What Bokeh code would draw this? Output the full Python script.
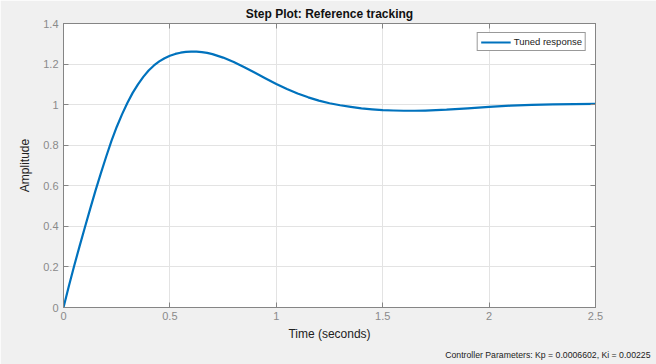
from bokeh.plotting import figure
from bokeh.models import LinearAxis, Range1d, FixedTicker, Legend, LegendItem, Title
from bokeh.embed import file_html
from bokeh.resources import INLINE

# step response
time_s = [0, 0.025, 0.05, 0.075, 0.1, 0.125, 0.15, 0.175, 0.2, 0.225, 0.25, 0.275, 0.3, 0.325,
          0.35, 0.375, 0.4, 0.425, 0.45, 0.475, 0.5, 0.525, 0.55, 0.575, 0.6, 0.625, 0.65,
          0.675, 0.7, 0.75, 0.8, 0.85, 0.9, 0.95, 1.0, 1.05, 1.1, 1.15, 1.2, 1.25, 1.3,
          1.35, 1.4, 1.45, 1.5, 1.55, 1.6, 1.65, 1.7, 1.8, 1.9, 2.0, 2.1, 2.2, 2.3, 2.4, 2.5]
amplitude = [0, 0.105, 0.205, 0.30, 0.393, 0.485, 0.575, 0.66, 0.742, 0.82, 0.89, 0.952, 1.008, 1.058,
             1.10, 1.137, 1.168, 1.193, 1.213, 1.229, 1.241, 1.25, 1.256, 1.26, 1.261, 1.261, 1.259,
             1.255, 1.249, 1.232, 1.21, 1.184, 1.157, 1.129, 1.102, 1.077, 1.055, 1.036, 1.02, 1.007, 0.997,
             0.989, 0.982, 0.977, 0.973, 0.971, 0.970, 0.970, 0.971, 0.975, 0.982, 0.989, 0.995, 0.999, 1.001, 1.003, 1.004]
x_ticks = [0, 0.5, 1, 1.5, 2, 2.5]
y_ticks = [0, 0.2, 0.4, 0.6, 0.8, 1, 1.2, 1.4]
title_text = "Step Plot: Reference tracking"
legend_text = "Tuned response"
footer_text = "Controller Parameters: Kp = 0.0006602, Ki = 0.00225"

BG = "#f0f0f0"
AX = "#858585"
FONT = "Liberation Sans"

p = figure(width=656, height=364, output_backend="svg", toolbar_location=None,
           x_range=Range1d(0, 2.5), y_range=Range1d(0, 1.4),
           min_border_left=63, min_border_right=61, min_border_top=23, min_border_bottom=57,
           background_fill_color="white", border_fill_color=BG,
           outline_line_color=AX, outline_line_width=1)

p.title = Title(text=title_text, align="center", text_font=FONT, text_font_size="12px",
                text_font_style="bold", text_color="#111111", standoff=6)

r = p.line(time_s, amplitude, line_color="#0072BD", line_width=2.2, line_join="round")

for ax, ticks in ((p.xaxis[0], x_ticks), (p.yaxis[0], y_ticks)):
    ax.ticker = FixedTicker(ticks=ticks)
    ax.axis_line_color = AX
    ax.major_tick_line_color = AX
    ax.major_tick_in = 5
    ax.major_tick_out = 0
    ax.minor_tick_line_color = None
    ax.major_label_text_color = "#8a8a8a"
    ax.major_label_text_font = FONT
    ax.major_label_text_font_size = "11px"
    ax.axis_label_text_font = FONT
    ax.axis_label_text_font_size = "12px"
    ax.axis_label_text_font_style = "normal"
    ax.axis_label_text_color = "#222222"

p.xaxis[0].axis_label = "Time (seconds)"
p.xaxis[0].major_label_standoff = 4
p.xaxis[0].axis_label_standoff = 4
p.yaxis[0].axis_label = "Amplitude"
p.yaxis[0].major_label_standoff = 5
p.yaxis[0].axis_label_standoff = 8

for loc, ticks in (("above", x_ticks), ("right", y_ticks)):
    a = LinearAxis(ticker=FixedTicker(ticks=ticks), axis_line_color=AX,
                   major_tick_line_color=AX, major_tick_in=5, major_tick_out=0,
                   minor_tick_line_color=None, major_label_text_font_size="0px",
                   major_label_standoff=0, major_label_text_color=None)
    p.add_layout(a, loc)

p.add_layout(Title(text=footer_text, align="right", offset=-55, text_font=FONT,
                   text_font_size="8.7px", text_font_style="normal", text_color="#222222",
                   standoff=9), "below")

p.xgrid.ticker = FixedTicker(ticks=x_ticks)
p.ygrid.ticker = FixedTicker(ticks=y_ticks)
p.xgrid.grid_line_color = "#e3e3e3"
p.ygrid.grid_line_color = "#e3e3e3"

legend = Legend(items=[LegendItem(label=legend_text, renderers=[r])],
                location="top_right", margin=9, padding=3, spacing=0,
                glyph_width=30, glyph_height=10, label_standoff=3,
                label_text_font=FONT, label_text_font_size="9.5px", label_height=10,
                label_text_color="#222222",
                border_line_color="#333333", border_line_width=1,
                background_fill_color="white", background_fill_alpha=1)
p.add_layout(legend)

html = file_html(p, INLINE)
html = html.replace("<body>", '<body style="background:%s">' % BG, 1)
open("out.html", "w").write(html)
